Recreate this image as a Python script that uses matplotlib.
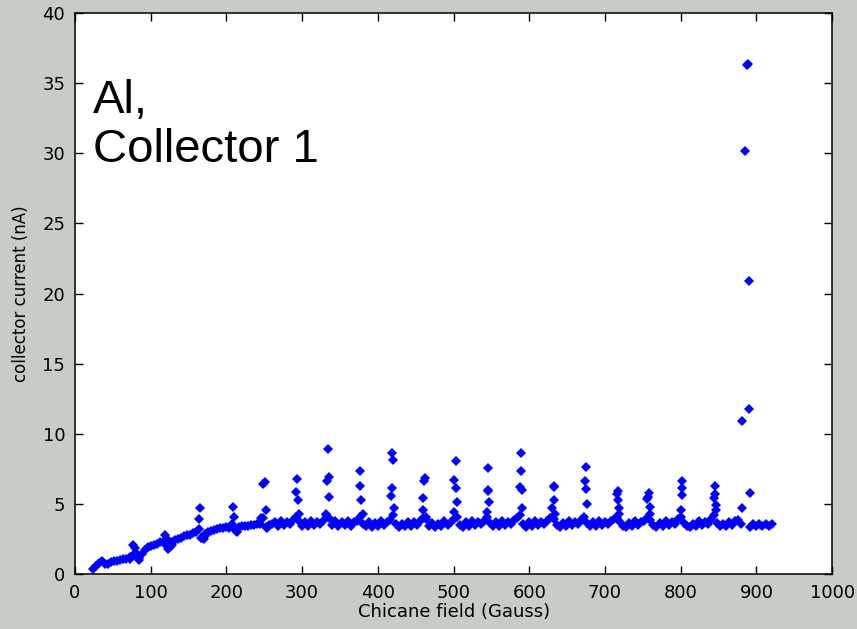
#!/usr/bin/env python3
import numpy as np
import matplotlib
matplotlib.use("Agg")
import matplotlib.pyplot as plt

# field sweep, one reading every 4 Gauss
field = np.arange(24, 924, 4)
current = [
    0.35, 0.55, 0.8, 0.9, 0.7, 0.75, 0.85, 0.9, 0.95, 1.0,
    1.05, 1.1, 1.2, 1.35, 1.5, 1.15, 1.45, 1.7, 1.9, 2.0,
    2.05, 2.15, 2.3, 2.25, 2.1, 2.0, 2.3, 2.4, 2.5, 2.6,
    2.7, 2.75, 2.8, 2.9, 3.0, 3.2, 2.6, 2.85, 3.0, 3.1,
    3.15, 3.2, 3.25, 3.3, 3.35, 3.3, 3.55, 3.15, 3.35, 3.4,
    3.45, 3.45, 3.5, 3.5, 3.55, 3.6, 4.0, 3.35, 3.5, 3.55,
    3.7, 3.45, 3.75, 3.5, 3.7, 3.55, 3.85, 4.1, 3.8, 3.45,
    3.7, 3.4, 3.75, 3.5, 3.7, 3.55, 3.8, 4.2, 4.0, 3.5,
    3.75, 3.4, 3.7, 3.5, 3.75, 3.45, 3.7, 3.8, 4.1, 3.6,
    3.4, 3.7, 3.35, 3.65, 3.45, 3.75, 3.5, 3.7, 3.85, 4.2,
    3.55, 3.35, 3.6, 3.4, 3.7, 3.45, 3.7, 3.5, 3.75, 4.0,
    3.9, 3.4, 3.65, 3.35, 3.6, 3.45, 3.75, 3.5, 3.7, 3.9,
    4.1, 3.5, 3.35, 3.7, 3.45, 3.75, 3.5, 3.7, 3.55, 3.8,
    4.1, 3.65, 3.4, 3.7, 3.45, 3.75, 3.5, 3.7, 3.55, 3.85,
    4.0, 4.2, 3.55, 3.35, 3.7, 3.45, 3.75, 3.5, 3.7, 3.55,
    3.8, 4.0, 3.9, 3.5, 3.35, 3.65, 3.45, 3.75, 3.5, 3.7,
    3.55, 3.85, 4.1, 3.65, 3.4, 3.7, 3.45, 3.75, 3.5, 3.7,
    3.55, 3.75, 3.9, 4.0, 3.7, 3.45, 3.35, 3.65, 3.45, 3.75,
    3.5, 3.7, 3.8, 4.0, 3.85, 3.5, 3.35, 3.65, 3.45, 3.75,
    3.5, 3.7, 3.55, 3.9, 4.1, 3.65, 3.4, 3.35, 3.6, 3.45,
    3.75, 3.5, 3.7, 3.6, 3.9, 4.2, 3.65, 3.4, 3.6, 3.45,
    3.7, 3.5, 3.75, 3.85, 3.6, np.nan, np.nan, 3.35, 3.6, 3.4,
    3.55, 3.4, 3.6, 3.45, 3.55,
]

# extra readings taken on the resonances
peak_field = [
    72, 77, 79, 81, 84,
    119, 121, 123, 126, 128,
    164, 165, 167, 170, 172,
    209, 210, 212, 214,
    246, 248, 251, 252, 254,
    292, 293, 294, 296,
    331, 333, 334, 335, 336,
    377, 377, 378, 380,
    418, 419, 419, 420, 421,
    460, 460, 461, 462, 464,
    500, 501, 503, 503, 504,
    544, 545, 546, 546, 547,
    588, 589, 589, 590, 591,
    630, 632, 632, 633, 634,
    674, 675, 675, 676,
    716, 717, 717, 718, 719,
    756, 757, 758, 759, 760,
    800, 802, 802, 802,
    844, 845, 845, 846, 847,
    881, 881, 885, 888, 889, 890, 890, 891,
]
peak_current = [
    1.05, 2.1, 1.85, 1.25, 1.0,
    2.75, 2.5, 1.75, 1.9, 2.1,
    3.9, 4.7, 2.6, 2.5, 2.7,
    4.8, 4.1, 3.05, 3.0,
    4.0, 6.45, 6.55, 4.6, 3.3,
    5.85, 6.75, 5.25, 4.3,
    4.3, 6.6, 8.95, 6.9, 5.5,
    7.35, 6.3, 5.3, 4.3,
    5.55, 8.65, 6.15, 8.1, 4.7,
    5.4, 4.55, 6.6, 6.85, 4.1,
    4.45, 6.7, 8.05, 6.1, 5.15,
    4.45, 6.0, 7.55, 5.9, 5.15,
    6.2, 8.65, 7.35, 6.0, 4.7,
    4.7, 6.3, 5.3, 6.2, 4.3,
    6.6, 7.6, 6.05, 5.0,
    5.7, 5.95, 5.3, 4.7, 4.25,
    5.35, 5.5, 5.75, 4.75, 4.3,
    4.55, 6.65, 6.1, 5.6,
    5.4, 6.25, 5.7, 4.9, 4.55,
    4.7, 10.9, 30.2, 36.3, 36.4, 20.9, 11.8, 5.75,
]

fig = plt.figure(figsize=(8.57, 6.29), dpi=100, facecolor="#c8ccc7")
ax = fig.add_axes([0.0875, 0.0874, 0.8835, 0.8918])
ax.set_facecolor("white")

marker = dict(linestyle="none", marker="D", color=(0, 0, 1),
              markersize=5.2, markeredgewidth=0)
ax.plot(field, current, **marker)
ax.plot(peak_field, peak_current, **marker)

ax.set_xlim(0, 1000)
ax.set_ylim(0, 40)
ax.set_xticks(np.arange(0, 1001, 100))
ax.set_yticks(np.arange(0, 41, 5))
ax.tick_params(direction="in", length=6, width=1, top=True, right=True,
               labelsize=13, pad=7, colors="black")
for s in ax.spines.values():
    s.set_linewidth(1.1)

ax.set_xlabel("Chicane field (Gauss)", fontsize=13, labelpad=1)
ax.set_ylabel("collector current (nA)", fontsize=12, labelpad=9)

ax.text(24, 32.9, "Al,", fontsize=34, family="Liberation Sans",
        va="baseline", ha="left")
ax.text(24, 29.4, "Collector 1", fontsize=34, family="Liberation Sans",
        va="baseline", ha="left")

fig.savefig("out.png", dpi=100, facecolor=fig.get_facecolor())
